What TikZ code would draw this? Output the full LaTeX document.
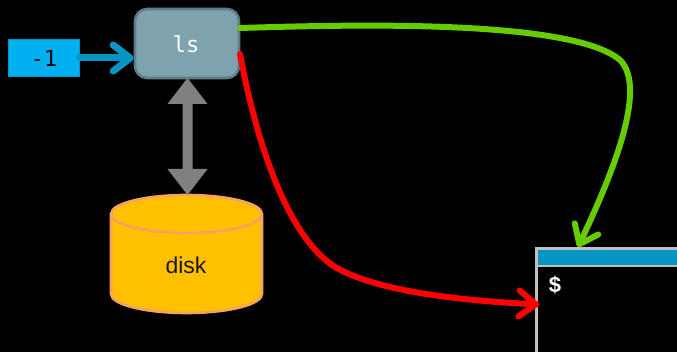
\documentclass[tikz,border=0pt]{standalone}
\usepackage{fontspec}
\setmainfont{Liberation Sans}
\newfontfamily\codefont{DejaVu Sans Mono}
\usetikzlibrary{arrows.meta}
\definecolor{flagblue}{HTML}{00B0F0}
\definecolor{linkblue}{HTML}{0796C4}
\definecolor{cmdfill}{HTML}{7FA3AE}
\definecolor{cmdedge}{HTML}{5F7D87}
\definecolor{diskfill}{HTML}{FFC000}
\definecolor{diskedge}{HTML}{F4A460}
\definecolor{greenline}{HTML}{66CC00}
\definecolor{termedge}{HTML}{BFBFBF}
\tikzset{
  x=1pt,y=-1pt,
  flagbox/.style={draw=linkblue,line width=0.6pt,fill=flagblue,minimum width=71pt,minimum height=37pt,inner sep=0pt},
  cmdbox/.style={draw=cmdedge,line width=2.6pt,fill=cmdfill,rounded corners=12pt,minimum width=104pt,minimum height=69pt,inner sep=0pt},
  barb/.style={line width=#1,line cap=round,-{Straight Barb[length=17pt,width=26pt,line width=#1,round]}},
  updown/.style={draw=none,fill=gray},
  termframe/.style={draw=termedge,line width=2.8pt,fill=black,minimum width=200pt,minimum height=140pt,inner sep=0pt,anchor=north west},
  termbar/.style={draw=none,fill=linkblue,minimum width=200pt,minimum height=15pt,inner sep=0pt,anchor=north west},
  code/.style={font=\codefont\fontsize{22}{25}\selectfont},
}
\begin{document}
\begin{tikzpicture}
\useasboundingbox (0,0) rectangle (677,352);
\clip (0,0) rectangle (677,352);
\fill[black] (0,0) rectangle (677,352);

% cylinder
\draw[draw=diskedge,fill=diskfill,line width=2.6pt]
  (111,214) -- (111,294) arc[start angle=180,end angle=360,x radius=75.5pt,y radius=19pt]
  -- (262,214) arc[start angle=0,end angle=180,x radius=75.5pt,y radius=19pt] -- cycle;
\draw[draw=diskedge,line width=2.6pt]
  (111,214) arc[start angle=180,end angle=360,x radius=75.5pt,y radius=19pt];
\node[inner sep=0pt,font=\fontsize{23}{26}\selectfont,text=black!90] (disk) at (186,265) {disk};
\coordinate (disktop) at (187.5,195);

% terminal
\node[termframe] (term) at (535,247.5) {};
\node[termbar] (bar) at (537.5,250) {};
\draw[termedge,line width=2.8pt] (536.5,266) -- (677,266);
\node[inner sep=0pt,text=white,font=\bfseries\fontsize{22}{25}\selectfont] (prompt) at (555,285) {\$};
\coordinate (termtop) at (578,247);
\coordinate (termleft) at (539,304.5);

% boxes
\node[flagbox] (flag) at (44,58) {\codefont\fontsize{22}{25}\selectfont -1};
\node[cmdbox] (ls) at (187,43.5) {};
\node[code,text=white] (lstext) at (186,44) {ls};

% connectors
\draw[barb=7pt,linkblue] (flag.east) -- (ls.west |- flag.east);
\draw[updown] (187.5,78) -- (207.5,104) -- (192.5,104) -- (192.5,169) -- (207.5,169)
  -- (disktop) -- (167.5,169) -- (182.5,169) -- (182.5,104) -- (167.5,104) -- cycle;
\coordinate (greenstart) at (ls.east |- 0,28);
\coordinate (redstart) at (240,54);
\draw[barb=6pt,greenline] (greenstart)
  .. controls (340,25) and (570,18) .. (620,60)
  .. controls (648,88) and (612,175) .. (termtop);
\draw[barb=6pt,red] (redstart)
  .. controls (255,135) and (285,235) .. (335,267)
  .. controls (375,290) and (450,300) .. (termleft);
\end{tikzpicture}
\end{document}
